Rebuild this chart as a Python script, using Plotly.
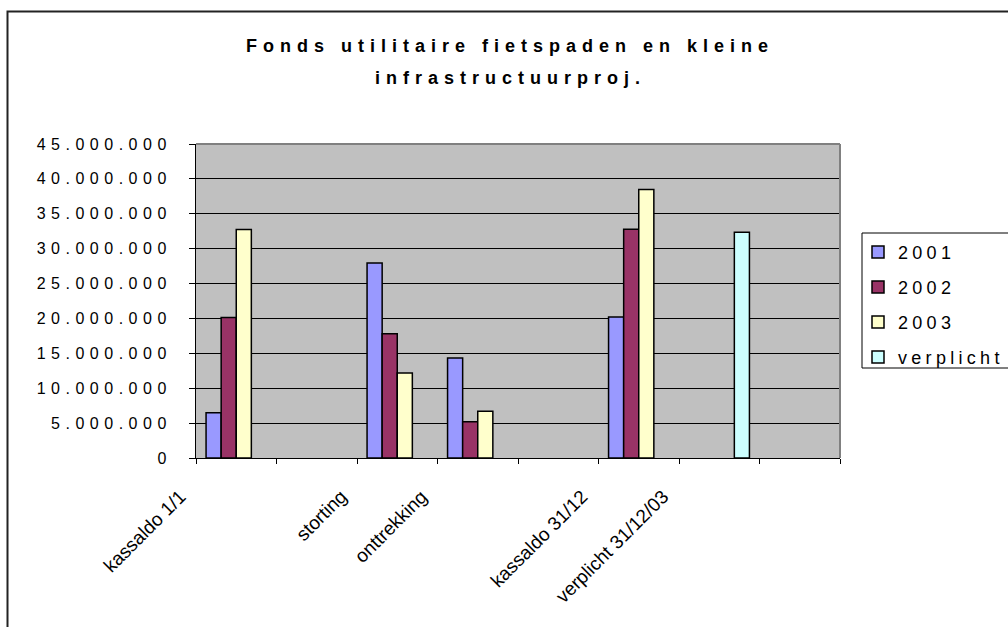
import plotly.graph_objects as go

# categories on the x axis (blank slots are empty categories in the original sheet)
categories = ["kassaldo 1/1", " ", "storting", "onttrekking", "  ",
              "kassaldo 31/12", "verplicht 31/12/03", "   "]
label_categories = ["kassaldo 1/1", "storting", "onttrekking",
                    "kassaldo 31/12", "verplicht 31/12/03"]

series_names = ["2001", "2002", "2003", "verplicht"]
values_2001 = [6470000, None, 27960000, 14340000, None, 20190000, None, None]
values_2002 = [20140000, None, 17790000, 5180000, None, 32800000, None, None]
values_2003 = [32760000, None, 12180000, 6710000, None, 38470000, None, None]
values_verplicht = [None, None, None, None, None, None, 32370000, None]
series_colors = ["#9999FF", "#993366", "#FFFFCC", "#CCFFFF"]

title_lines = ["Fonds utilitaire fietspaden en kleine", "infrastructuurproj."]

# plot area in page pixels
W, H = 1008, 627
PL, PR, PT, PB = 196, 840, 144, 458


def px_x(x):
    return (x - PL) / (PR - PL)


def px_y(y):
    return (PB - y) / (PB - PT)


fig = go.Figure()
for name, vals, col in zip(series_names,
                           [values_2001, values_2002, values_2003, values_verplicht],
                           series_colors):
    fig.add_trace(go.Bar(
        x=categories, y=vals, name=name, legendgroup=name,
        marker=dict(color=col, line=dict(color="black", width=1.5)),
    ))

annotations = []
for i, line in enumerate(title_lines):
    annotations.append(dict(
        text=line, xref="paper", yref="paper", x=px_x(510), y=px_y([45.5, 78.0][i]),
        xanchor="center", yanchor="middle", showarrow=False,
        font=dict(family="Liberation Sans", size=18, color="black", weight="bold"),
    ))
for cat in label_categories:
    annotations.append(dict(
        text=cat, xref="x", yref="y", x=cat, y=0,
        xanchor="right", yanchor="top", textangle=-45, showarrow=False,
        xshift=-44, yshift=-25,
        font=dict(family="Liberation Sans", size=19, color="black"),
    ))

shapes = [
    # top and right edge of the plot area
    dict(type="line", xref="paper", yref="paper", x0=0, x1=1, y0=1, y1=1,
         line=dict(color="#808080", width=2), layer="above"),
    dict(type="line", xref="paper", yref="paper", x0=1, x1=1, y0=0, y1=1,
         line=dict(color="#808080", width=2), layer="above"),
    # outer chart frame
    dict(type="rect", xref="paper", yref="paper",
         x0=px_x(7.5), x1=px_x(1100), y0=px_y(700), y1=px_y(11.5),
         line=dict(color="#222222", width=2)),
    # legend frame
    dict(type="rect", xref="paper", yref="paper",
         x0=px_x(862), x1=px_x(1100), y0=px_y(368), y1=px_y(233),
         line=dict(color="black", width=1)),
]

fig.update_layout(
    width=W, height=H,
    margin=dict(l=PL, r=W - PR, t=PT, b=H - PB, autoexpand=False),
    paper_bgcolor="white",
    plot_bgcolor="#C0C0C0",
    barmode="group",
    bargap=0.25,
    bargroupgap=0,
    separators=",.",
    font=dict(family="Liberation Sans", color="black"),
    showlegend=True,
    legend=dict(
        x=px_x(858), y=px_y(233.8), xanchor="left", yanchor="top",
        bgcolor="rgba(0,0,0,0)", borderwidth=0,
        font=dict(size=18, color="black"),
        tracegroupgap=8.6,
    ),
    annotations=annotations,
    shapes=shapes,
)

fig.update_xaxes(
    type="category", categoryorder="array", categoryarray=categories,
    range=[-0.5, len(categories) - 0.5],
    tickson="boundaries", ticks="outside", ticklen=5, tickcolor="black",
    showticklabels=False, showgrid=False,
    showline=True, linecolor="black", linewidth=1,
)
fig.update_yaxes(
    range=[0, 45000000], tick0=0, dtick=5000000, tickformat=",",
    ticks="outside", ticklen=6, tickcolor="black",
    ticklabelstandoff=14,
    tickfont=dict(size=16, color="black"),
    showgrid=True, gridcolor="black", gridwidth=1, zeroline=False,
    showline=True, linecolor="black", linewidth=1,
)

# Excel-style wide letter spacing on title, value axis and legend;
# no page margin, and let the (wider) legend text run past its box
page_js = """
document.body.style.margin = '0';
var s = document.createElement('style');
s.textContent = '.ytick text{letter-spacing:5.5px}' +
  '.legendtext{letter-spacing:4.3px}' +
  '.annotation[data-index="0"] text, .annotation[data-index="1"] text{letter-spacing:6px}';
document.head.appendChild(s);
document.querySelectorAll('.legend .scrollbox').forEach(function(e){ e.removeAttribute('clip-path'); });
"""

fig.write_html("out.html", post_script=page_js, config={"displayModeBar": False})
